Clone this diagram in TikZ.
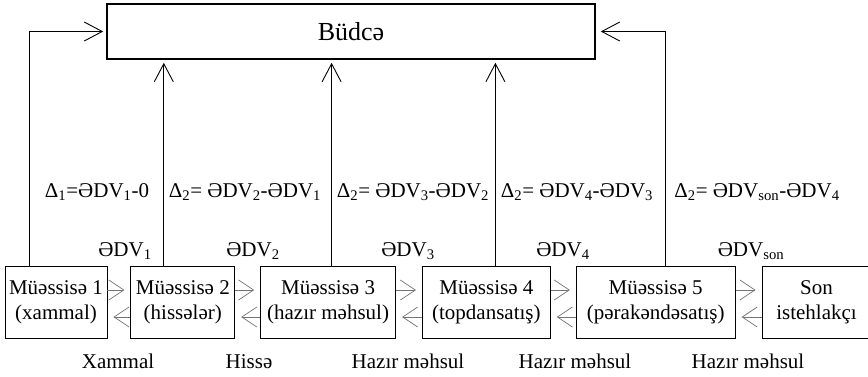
\documentclass[tikz,border=0pt]{standalone}
\usepackage{fontspec}
\setmainfont{Liberation Serif}
\usetikzlibrary{positioning,arrows.meta}
\newcommand\dv[1]{ƏDV\textsubscript{#1}}
\newcommand\dl[1]{Δ\textsubscript{#1}}
\tikzset{
  firm/.style={draw, line width=0.8pt, minimum height=72pt, align=center, inner sep=1pt},
  up/.style={-{Straight Barb[length=18pt,width=19pt]}, line width=0.9pt},
  flow/.style={-{Straight Barb[length=15pt,width=20pt]}, draw=black!55, line width=0.7pt, shorten >=6pt},
  lbl/.style={anchor=base, inner sep=0pt}
}
\begin{document}
\begin{tikzpicture}[x=1pt, y=-1pt, font=\fontsize{21}{25}\selectfont]
\useasboundingbox (0,0) rectangle (868,376);
%büdcə
\node[draw, line width=1.6pt, minimum width=488pt, minimum height=55pt,
  font=\fontsize{26}{30}\selectfont] (top) at (351,31.5) {Büdcə};
%müəssisələr
\node[firm, minimum width=102pt] (b1) at (56,302) {Müəssisə 1\\(xammal)};
\node[firm, minimum width=104pt, right=23pt of b1] (b2) {Müəssisə 2\\(hissələr)};
\node[firm, minimum width=135pt, right=25pt of b2] (b3) {Müəssisə 3\\(hazır məhsul)};
\node[firm, minimum width=128pt, right=26pt of b3] (b4) {Müəssisə 4\\(topdansatış)};
\node[firm, minimum width=159pt, right=25pt of b4] (b5) {Müəssisə 5\\(pərakəndəsatış)};
\node[firm, minimum width=109pt, right=26pt of b5] (b6) {Son\\istehlakçı};
%büdcəyə axın
\draw[up, shorten >=3pt] ([xshift=-27pt]b1.north) |- (top.west);
\foreach \n/\s in {b2/-19,b3/3.5,b4/9}
  \draw[up, shorten >=3pt] ([xshift=\s pt]\n.north) -- ([xshift=\s pt]\n.north |- top.south);
\draw[up, shorten >=5pt] ([xshift=9.5pt]b5.north) |- (top.east);
%mal axını
\foreach \a/\b in {b1/b2,b2/b3,b3/b4,b4/b5,b5/b6}{
  \draw[flow] ([yshift=12pt]\a.east) -- ([yshift=12pt]\b.west);
  \draw[flow] ([yshift=-15pt]\b.west) -- ([yshift=-15pt]\a.east);
}
%fərqlər
\foreach \x/\t [count=\i] in {97/{\dl1=\dv1-0}, 245/{\dl2= \dv2-\dv1},
    413/{\dl2= \dv3-\dv2}, 577/{\dl2= \dv4-\dv3}, 757/{\dl2= \dv{son}-\dv4}}
  \node[lbl] (d\i) at (\x,197) {\t};
%dəyərlər
\foreach \x/\t [count=\i] in {125/1, 253/2, 408/3, 563/4, 751/son}
  \node[lbl] (v\i) at (\x,256) {\dv{\t}};
%məhsullar
\foreach \x/\t [count=\i] in {118/Xammal, 249/Hissə, 408/Hazır məhsul,
    575/Hazır məhsul, 748/Hazır məhsul}
  \node[lbl] (m\i) at (\x,368) {\t};
\end{tikzpicture}
\end{document}
